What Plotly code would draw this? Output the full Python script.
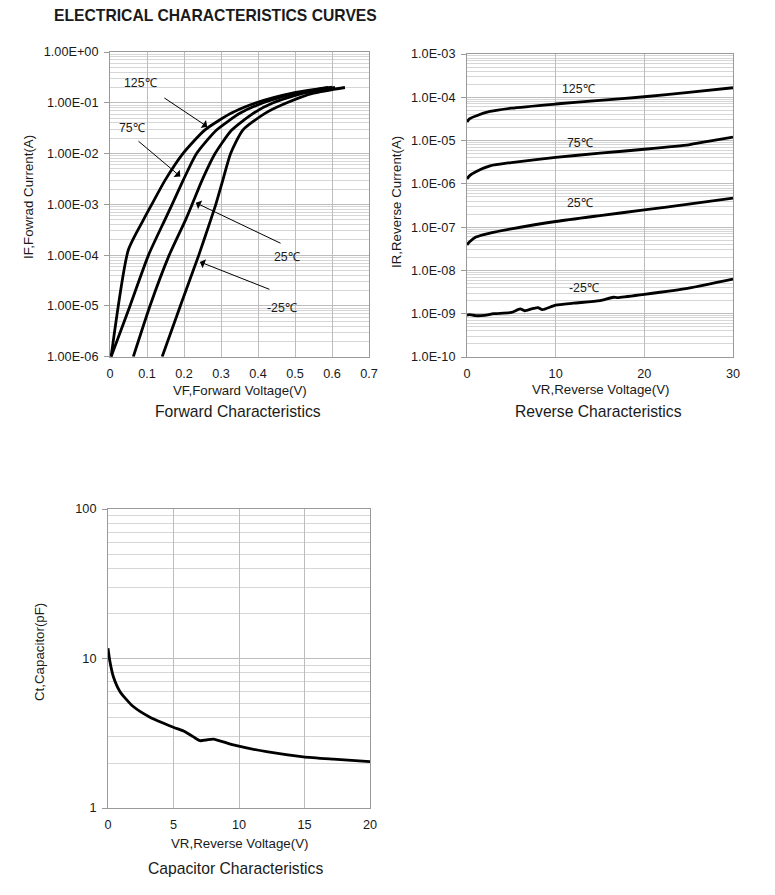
import plotly.graph_objects as go

# ---------------- Data ----------------
# Forward characteristics (VF in V, IF in A)
vf_125 = [0.003, 0.0495, 0.090, 0.113, 0.149, 0.197, 0.256, 0.327, 0.395, 0.493, 0.590]
if_125 = [1.0e-6, 1.26e-4, 4.9e-4, 1.0e-3, 3.0e-3, 1.0e-2, 2.9e-2, 6.2e-2, 1.0e-1, 1.55e-1, 2.0e-1]
vf_75 = [0.003, 0.054, 0.104, 0.148, 0.168, 0.198, 0.234, 0.288, 0.351, 0.414, 0.505, 0.600]
if_75 = [1.0e-6, 1.0e-5, 1.0e-4, 4.9e-4, 1.0e-3, 3.0e-3, 1.0e-2, 2.9e-2, 6.2e-2, 1.0e-1, 1.55e-1, 2.04e-1]
vf_25 = [0.063, 0.108, 0.160, 0.204, 0.222, 0.249, 0.284, 0.329, 0.387, 0.441, 0.523, 0.608]
if_25 = [1.0e-6, 1.0e-5, 1.0e-4, 4.9e-4, 1.0e-3, 3.0e-3, 1.0e-2, 2.9e-2, 6.2e-2, 1.0e-1, 1.55e-1, 2.02e-1]
vf_m25 = [0.141, 0.190, 0.240, 0.272, 0.286, 0.305, 0.326, 0.359, 0.419, 0.478, 0.550, 0.635]
if_m25 = [1.0e-6, 1.0e-5, 1.0e-4, 4.9e-4, 1.0e-3, 3.0e-3, 1.0e-2, 2.9e-2, 6.2e-2, 1.0e-1, 1.55e-1, 2.0e-1]

# Reverse characteristics (VR in V, IR in A)
vr_125 = [0, 0.3, 1, 2.6, 5, 10, 15, 20, 25, 30]
ir_125 = [2.7e-5, 3.2e-5, 3.7e-5, 4.7e-5, 5.6e-5, 7.0e-5, 8.5e-5, 1.03e-4, 1.3e-4, 1.66e-4]
vr_75 = [0, 0.3, 1, 2.6, 5, 10, 15, 20, 25, 26, 30]
ir_75 = [1.3e-6, 1.55e-6, 1.9e-6, 2.6e-6, 3.1e-6, 4.1e-6, 5.1e-6, 6.3e-6, 8.0e-6, 8.7e-6, 1.2e-5]
vr_25 = [0, 0.3, 1, 2.6, 5, 10, 15, 20, 25, 30]
ir_25 = [3.9e-8, 4.6e-8, 5.9e-8, 7.3e-8, 9.1e-8, 1.35e-7, 1.85e-7, 2.5e-7, 3.4e-7, 4.7e-7]
vr_m25 = [0, 0.3, 1, 2, 3, 5, 6, 6.5, 7.5, 8, 8.5, 10, 12, 15, 16.5, 17, 20, 25, 30]
ir_m25 = [9.3e-10, 9.5e-10, 9.0e-10, 9.2e-10, 1.0e-9, 1.07e-9, 1.29e-9, 1.17e-9, 1.33e-9, 1.38e-9, 1.24e-9,
          1.58e-9, 1.75e-9, 2.0e-9, 2.4e-9, 2.35e-9, 2.8e-9, 3.9e-9, 6.3e-9]

# Capacitance (VR in V, Ct in pF)
vc = [0, 0.15, 0.41, 0.92, 1.93, 3.2, 4.99, 5.88, 6.5, 7.02, 7.5, 8.04, 9.57, 12.1, 14.9, 17.2, 20]
ct = [11.7, 9.5, 7.55, 6.0, 4.77, 4.05, 3.47, 3.24, 3.0, 2.82, 2.85, 2.89, 2.64, 2.38, 2.2, 2.12, 2.04]

fwd_ticks = [1e-6, 1e-5, 1e-4, 1e-3, 1e-2, 1e-1, 1e0]
fwd_labels = ["1.00E-06", "1.00E-05", "1.00E-04", "1.00E-03", "1.00E-02", "1.00E-01", "1.00E+00"]
rev_ticks = [1e-10, 1e-9, 1e-8, 1e-7, 1e-6, 1e-5, 1e-4, 1e-3]
rev_labels = ["1.0E-10", "1.0E-09", "1.0E-08", "1.0E-07", "1.0E-06", "1.0E-05", "1.0E-04", "1.0E-03"]
cap_ticks = [1, 10, 100]
cap_labels = ["1", "10", "100"]

FONT = "Liberation Sans, Arial, sans-serif"
GRID = "#bdbdbd"
MGRID = "#d6d6d6"
AX = "#9a9a9a"
TXT = "#1a1a1a"


def minor_vals(lo, hi):
    out = []
    for e in range(lo, hi):
        for m in range(2, 10):
            out.append(m * 10.0 ** e)
    return out


fig = go.Figure()
line = dict(color="black", width=2.8, shape="spline", smoothing=0.6)

for xs, ys in [(vf_125, if_125), (vf_75, if_75), (vf_25, if_25), (vf_m25, if_m25)]:
    fig.add_trace(go.Scatter(x=xs, y=ys, mode="lines", line=line, xaxis="x", yaxis="y", showlegend=False))
for xs, ys in [(vr_125, ir_125), (vr_75, ir_75), (vr_25, ir_25), (vr_m25, ir_m25)]:
    fig.add_trace(go.Scatter(x=xs, y=ys, mode="lines", line=line, xaxis="x2", yaxis="y2", showlegend=False))
fig.add_trace(go.Scatter(x=vc, y=ct, mode="lines", line=line, xaxis="x3", yaxis="y3", showlegend=False))

W, H = 775, 895


def px(xp):
    return xp / W


def py(yp):
    return 1 - yp / H


common_x = dict(showline=True, linecolor=AX, linewidth=1, mirror=True, showgrid=True, gridcolor=GRID,
                gridwidth=1, zeroline=False, ticks="", tickfont=dict(family=FONT, size=12.7, color=TXT),
                ticklabelstandoff=5, automargin=False)
common_y = dict(type="log", showline=True, linecolor=AX, linewidth=1, mirror=True, showgrid=True,
                gridcolor=GRID, gridwidth=1, zeroline=False, ticks="outside", ticklen=5, tickcolor=AX,
                tickfont=dict(family=FONT, size=12.7, color=TXT), ticklabelstandoff=3, automargin=False)

fig.update_layout(
    width=W, height=H, margin=dict(l=0, r=0, t=0, b=0, autoexpand=False), paper_bgcolor="white",
    plot_bgcolor="white",
    xaxis=dict(common_x, domain=[px(110), px(369)], range=[0, 0.7], tickvals=[0, 0.1, 0.2, 0.3, 0.4, 0.5, 0.6, 0.7],
               ticktext=["0", "0.1", "0.2", "0.3", "0.4", "0.5", "0.6", "0.7"], anchor="y"),
    yaxis=dict(common_y, domain=[py(356.7), py(52)], range=[-6, 0], tickvals=fwd_ticks, ticktext=fwd_labels,
               anchor="x", minor=dict(tickvals=minor_vals(-6, 0), showgrid=True, gridcolor=MGRID, ticks="")),
    xaxis2=dict(common_x, domain=[px(467), px(733)], range=[0, 30], tickvals=[0, 10, 20, 30], anchor="y2"),
    yaxis2=dict(common_y, domain=[py(357), py(54)], range=[-10, -3], tickvals=rev_ticks, ticktext=rev_labels,
                anchor="x2", minor=dict(tickvals=minor_vals(-10, -3), showgrid=True, gridcolor=MGRID, ticks="")),
    xaxis3=dict(common_x, domain=[px(108), px(370)], range=[0, 20], tickvals=[0, 5, 10, 15, 20], anchor="y3"),
    yaxis3=dict(common_y, domain=[py(808), py(509)], range=[0, 2], tickvals=cap_ticks, ticktext=cap_labels,
                anchor="x3", minor=dict(tickvals=minor_vals(0, 2), showgrid=True, gridcolor=MGRID, ticks="")),
)

ann = []


def text(xp, yp, s, size=12.3, angle=0, bold=False):
    ann.append(dict(x=px(xp), y=py(yp), xref="paper", yref="paper", text=("<b>%s</b>" % s) if bold else s,
                    showarrow=False, textangle=angle, font=dict(family=FONT, size=size, color=TXT),
                    xanchor="center", yanchor="middle"))


text(216, 15, "ELECTRICAL CHARACTERISTICS CURVES", size=15.7, bold=True)
text(239.5, 391, "VF,Forward Voltage(V)", size=13.3)
text(237.5, 411, "Forward Characteristics", size=15.7)
text(28, 197, "IF,Fowrad Current(A)", size=13.3, angle=-90)
text(600, 389, "VR,Reverse Voltage(V)", size=13.3)
text(598, 412, "Reverse Characteristics", size=15.7)
text(397, 202, "IR,Reverse Current(A)", size=13.3, angle=-90)
text(239, 843, "VR,Reverse Voltage(V)", size=13.3)
text(235, 868, "Capacitor Characteristics", size=15.7)
text(39, 652, "Ct,Capacitor(pF)", size=13.3, angle=-90)

# Curve labels
text(140, 83, "125℃")
text(132, 128, "75℃")
text(287, 257, "25℃")
text(282, 308, "-25℃")
text(578, 89, "125℃")
text(580, 143, "75℃")
text(580, 203, "25℃")
text(584, 288, "-25℃")

# Arrows (forward plot, data coordinates; y in log10)
arrows = [((0.143, -0.886), (0.263, -1.47)),
          ((0.073, -1.732), (0.190, -2.45)),
          ((0.465, -3.78), (0.232, -2.97)),
          ((0.435, -4.685), (0.243, -4.134))]
for (tx, ty), (hx, hy) in arrows:
    ann.append(dict(x=hx, y=hy, xref="x", yref="y", ax=tx, ay=ty, axref="x", ayref="y", showarrow=True,
                    arrowhead=1, arrowsize=1.6, arrowwidth=1, arrowcolor="black", text=""))

fig.update_layout(annotations=ann)
fig.write_html("out.html", config={"displayModeBar": False},
               post_script="document.body.style.margin='0px';document.body.style.overflow='hidden';")
